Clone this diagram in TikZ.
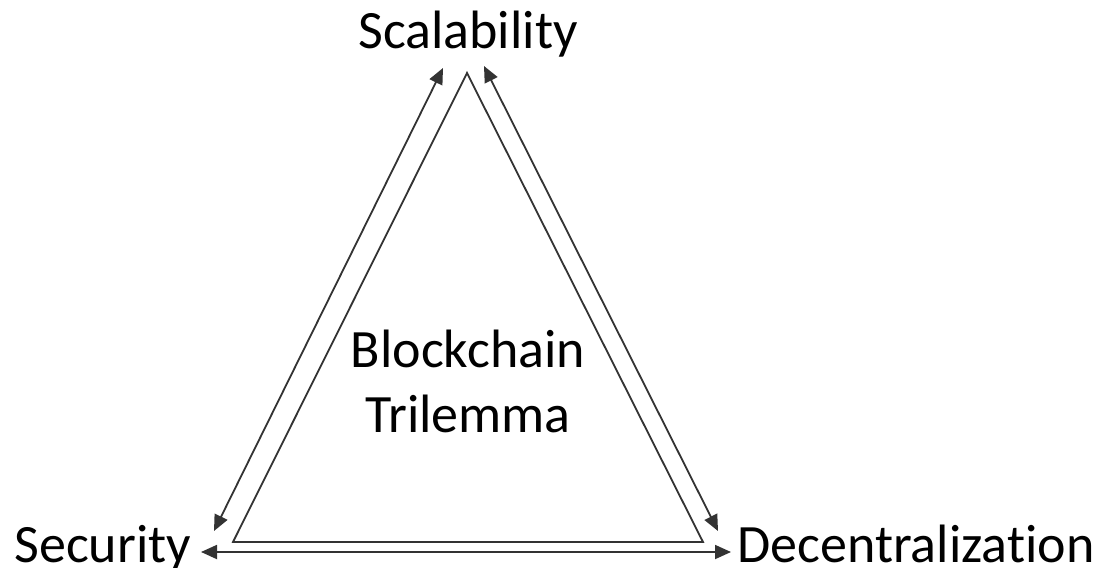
\documentclass[tikz,border=0pt]{standalone}
\usepackage{fontspec}
\setmainfont[Ligatures=NoCommon]{Carlito}
\usepackage{tikz}
\usetikzlibrary{arrows.meta}

\tikzset{
  side/.style={draw=black!80, line width=0.9pt},
  pull/.style={draw=black!80, line width=0.9pt,
               {Triangle[length=8pt, width=7pt]}-{Triangle[length=8pt, width=7pt]}},
  corner/.style={font=\fontsize{27}{32.5}\selectfont, inner sep=0pt}
}

\begin{document}
\begin{tikzpicture}[x=0.5pt, y=-0.5pt]
  \useasboundingbox (0,0) rectangle (1104,568);

  % triangle corners
  \coordinate (top) at (467,73);
  \coordinate (bl) at (233,542);
  \coordinate (br) at (703,542);
  \draw[side] (top) -- (bl) -- (br) -- cycle;

  % arrow ends
  \coordinate (l1) at (214,531);
  \coordinate (l2) at (443,68);
  \coordinate (r1) at (484,66);
  \coordinate (r2) at (718,531);
  \coordinate (b1) at (201,552);
  \coordinate (b2) at (731,552);
  \draw[pull] (l1) -- (l2);
  \draw[pull] (r1) -- (r2);
  \draw[pull] (b1) -- (b2);

  \node[corner, anchor=base] (scal) at (468,48) {Scalability};
  \node[corner, anchor=base west] (secu) at (14,562) {Security};
  \node[corner, anchor=base west] (dece) at (737,562) {Decentralization};
  \node[corner, align=center, anchor=base] (tril) at (468,432)
    {Blockchain\\Trilemma};
\end{tikzpicture}
\end{document}
